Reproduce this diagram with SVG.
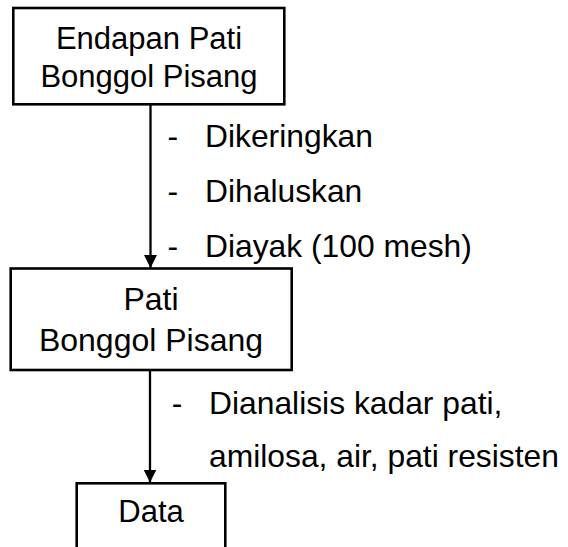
<svg xmlns="http://www.w3.org/2000/svg" width="568" height="547" viewBox="0 0 568 547">
  <style>
    .box { fill: #ffffff; stroke: #000000; stroke-width: 2.6; }
    .wire { fill: none; stroke: #000000; stroke-width: 2.3; }
    text { font-family: "Liberation Sans", Arial, sans-serif; font-size: 31px; fill: #000000; }
    .c { text-anchor: middle; }
    .note { font-size: 31.8px; }
    .big { font-size: 32px; }
  </style>
  <defs>
    <marker id="arrow" markerUnits="userSpaceOnUse" markerWidth="13" markerHeight="14" refX="13" refY="6.5" orient="auto">
      <path d="M0,0 L13,6.5 L0,13 Z" fill="#000000"/>
    </marker>
  </defs>

  <rect width="568" height="547" fill="#ffffff"/>

  <!-- connectors -->
  <g id="connectors">
    <line class="wire" x1="150.5" y1="104" x2="150.5" y2="268" marker-end="url(#arrow)"/>
    <line class="wire" x1="150" y1="370" x2="150" y2="482.5" marker-end="url(#arrow)"/>
  </g>

  <!-- step notes -->
  <g id="notes-1" class="note">
    <text class="note" x="167.6" y="147">-</text>
    <text class="note" x="205" y="147">Dikeringkan</text>
    <text class="note" x="167.6" y="202">-</text>
    <text class="note" x="205" y="202">Dihaluskan</text>
    <text class="note" x="167.6" y="257">-</text>
    <text class="note" x="205" y="257">Diayak (100 mesh)</text>
  </g>
  <g id="notes-2">
    <text class="note" x="171.8" y="413.5">-</text>
    <text class="note" x="209" y="413.5">Dianalisis kadar pati,</text>
    <text class="note" x="209" y="467">amilosa, air, pati resisten</text>
  </g>

  <!-- nodes -->
  <g id="node-endapan">
    <rect class="box" x="13.3" y="8" width="271" height="96.3"/>
    <text class="c" x="149" y="49">Endapan Pati</text>
    <text class="c" x="149" y="87">Bonggol Pisang</text>
  </g>
  <g id="node-pati">
    <rect class="box" x="10.7" y="268.5" width="281" height="101.5"/>
    <text class="c big" x="151" y="310">Pati</text>
    <text class="c big" x="151" y="351">Bonggol Pisang</text>
  </g>
  <g id="node-data">
    <rect class="box" x="76.7" y="483.3" width="148.6" height="80"/>
    <text class="c" x="151" y="521.5">Data</text>
  </g>
</svg>
